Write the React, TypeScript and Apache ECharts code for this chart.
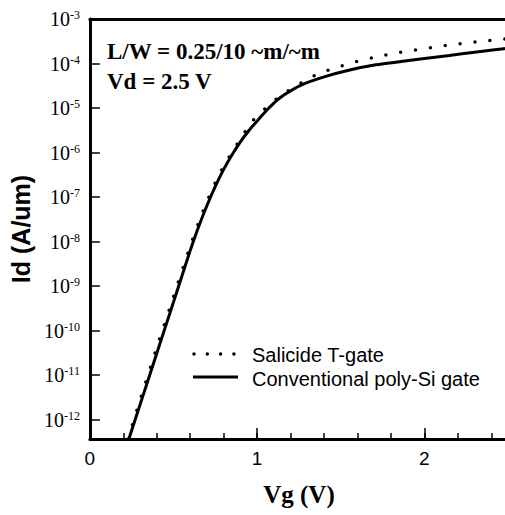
import React, { useEffect, useRef } from 'react';
import * as echarts from 'echarts';

// ---- data ----
const seriesNames = ['Salicide T-gate', 'Conventional poly-Si gate'];

const salicideVg = [0.228, 0.3, 0.4, 0.5, 0.6, 0.65, 0.7, 0.75, 0.8, 0.85, 0.9, 0.97, 1.06, 1.15, 1.24, 1.32, 1.41, 1.5, 1.59, 1.67, 1.76, 1.85, 1.94, 2.02, 2.11, 2.2, 2.29, 2.38, 2.47, 2.5];
const salicideId = [3.65e-13, 2.75e-12, 4.17e-11, 5.75e-10, 7.94e-9, 2.63e-8, 7.94e-8, 2.09e-7, 4.9e-7, 1.02e-6, 2.0e-6, 5.01e-6, 1.07e-5, 2.0e-5, 3.24e-5, 4.9e-5, 6.76e-5, 8.71e-5, 1.1e-4, 1.29e-4, 1.53e-4, 1.76e-4, 2.0e-4, 2.21e-4, 2.48e-4, 2.75e-4, 3.02e-4, 3.27e-4, 3.51e-4, 3.59e-4];

const conventionalVg = [0.233, 0.3, 0.4, 0.5, 0.6, 0.65, 0.7, 0.75, 0.8, 0.85, 0.9, 0.95, 1.0, 1.06, 1.1, 1.16, 1.26, 1.41, 1.56, 1.71, 1.86, 2.0, 2.15, 2.3, 2.5];
const conventionalId = [3.65e-13, 2.16e-12, 3.09e-11, 4.37e-10, 6.31e-9, 2.14e-8, 6.46e-8, 1.74e-7, 4.17e-7, 8.91e-7, 1.74e-6, 3.09e-6, 5.13e-6, 9.12e-6, 1.29e-5, 1.95e-5, 3.24e-5, 5.13e-5, 7.24e-5, 9.33e-5, 1.11e-4, 1.29e-4, 1.51e-4, 1.8e-4, 2.21e-4];

const xTickLabels = [0, 1, 2];
const yExponents = [-3, -4, -5, -6, -7, -8, -9, -10, -11, -12];
const annotations = ['L/W = 0.25/10 ~m/~m', 'Vd = 2.5 V'];
const xAxisTitle = 'Vg (V)';
const yAxisTitle = 'Id (A/um)';

export default function App() {
  const ref = useRef<HTMLDivElement>(null);
  useEffect(() => {
    if (!ref.current) return;
    const chart = echarts.init(ref.current, null, { renderer: 'svg' });
    const black = '#000';
    const option: any = {
      animation: false,
      backgroundColor: '#fff',
      grid: { left: 89, top: 19, width: 419, height: 420 },
      xAxis: [
        {
          type: 'value', position: 'bottom', min: 0, max: 2.5, interval: 1,
          axisLine: { show: true, lineStyle: { color: black, width: 3 } },
          axisTick: { show: true, inside: true, length: 11, lineStyle: { color: black, width: 1.5 } },
          axisLabel: {
            margin: 10, color: black, fontFamily: 'Liberation Sans', fontSize: 19,
            formatter: (v: number) => (xTickLabels.includes(v) ? String(v) : ''),
          },
          splitLine: { show: false },
          name: xAxisTitle, nameLocation: 'middle', nameGap: 43,
          nameTextStyle: { color: black, fontFamily: 'Liberation Serif', fontWeight: 'bold', fontSize: 25 },
        },
        {
          type: 'value', position: 'bottom', min: 0, max: 2.5, interval: 0.2,
          axisLine: { show: false },
          axisTick: { show: true, inside: true, length: 6, lineStyle: { color: black, width: 1.5 } },
          axisLabel: { show: false },
          splitLine: { show: false },
        },
        {
          type: 'value', position: 'top', min: 0, max: 2.5,
          axisLine: { show: true, lineStyle: { color: black, width: 3 } },
          axisTick: { show: false }, axisLabel: { show: false }, splitLine: { show: false },
        },
      ],
      yAxis: {
        type: 'log', logBase: 10, min: 3.65e-13, max: 1e-3, splitNumber: 10,
        axisLine: { show: true, lineStyle: { color: black, width: 3 } },
        axisTick: { show: true, inside: true, length: 10, lineStyle: { color: black, width: 1.5 } },
        minorTick: { show: false },
        splitLine: { show: false },
        axisLabel: {
          margin: 10,
          formatter: (v: number) => {
            const e = Math.log10(v);
            const r = Math.round(e);
            if (Math.abs(e - r) > 1e-6 || !yExponents.includes(r)) return '';
            return `{b|10}{s|${r}}`;
          },
          rich: {
            b: { fontFamily: 'Liberation Serif', fontSize: 20, color: black, lineHeight: 20 },
            s: { fontFamily: 'Liberation Serif', fontSize: 12, color: black, lineHeight: 15, verticalAlign: 'top' },
          },
        },
        name: yAxisTitle, nameLocation: 'middle', nameGap: 51,
        nameTextStyle: { color: black, fontFamily: 'Liberation Sans', fontWeight: 'bold', fontSize: 25 },
      },
      series: [
        {
          type: 'line', name: seriesNames[0], xAxisIndex: 0,
          data: salicideVg.map((x, i) => [x, salicideId[i]]),
          showSymbol: false, symbol: 'none', smooth: 0.2,
          lineStyle: { color: black, width: 3.5, type: [0, 15], cap: 'round' },
        },
        {
          type: 'line', name: seriesNames[1], xAxisIndex: 0,
          data: conventionalVg.map((x, i) => [x, conventionalId[i]]),
          showSymbol: false, symbol: 'none', smooth: 0.2,
          lineStyle: { color: black, width: 3 },
        },
      ],
      graphic: [
        { type: 'text', x: 107, y: 51, style: { text: annotations[0], fill: black, fontFamily: 'Liberation Serif', fontWeight: 'bold', fontSize: 23, verticalAlign: 'middle' } },
        { type: 'text', x: 107, y: 81, style: { text: annotations[1], fill: black, fontFamily: 'Liberation Serif', fontWeight: 'bold', fontSize: 23, verticalAlign: 'middle' } },
        { type: 'line', shape: { x1: 194, y1: 354, x2: 235, y2: 354 }, style: { stroke: black, lineWidth: 3.5, lineDash: [0, 13.3], lineCap: 'round' } },
        { type: 'line', shape: { x1: 193, y1: 377, x2: 238, y2: 377 }, style: { stroke: black, lineWidth: 3 } },
        { type: 'text', x: 252, y: 354.5, style: { text: seriesNames[0], fill: black, fontFamily: 'Liberation Sans', fontSize: 20, verticalAlign: 'middle' } },
        { type: 'text', x: 252, y: 379, style: { text: seriesNames[1], fill: black, fontFamily: 'Liberation Sans', fontSize: 20, verticalAlign: 'middle' } },
      ],
    };
    chart.setOption(option);
    return () => chart.dispose();
  }, []);
  return <div ref={ref} style={{ position: 'fixed', left: 0, top: 0, width: 520, height: 515 }} />;
}
